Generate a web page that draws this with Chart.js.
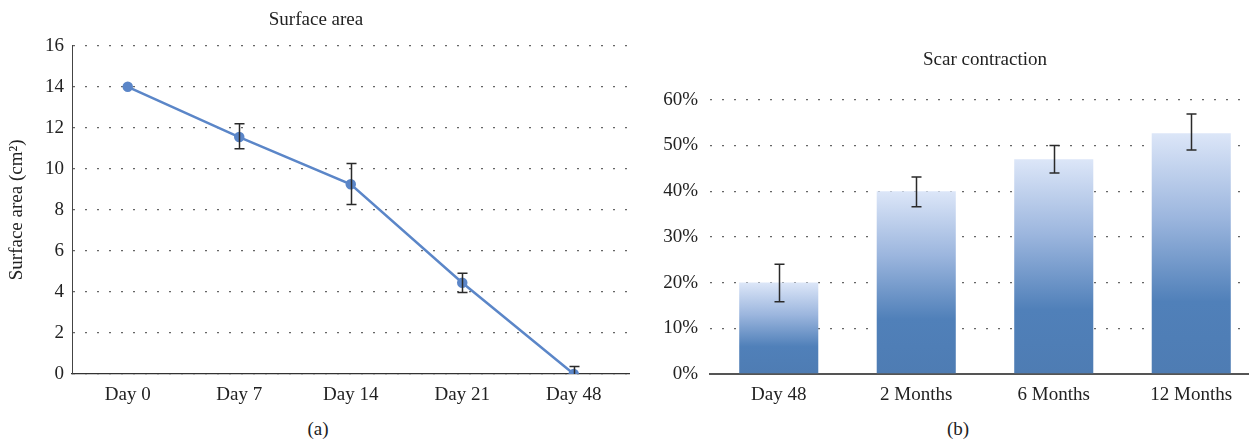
<!DOCTYPE html>
<html>
<head>
<meta charset="utf-8">
<script src="https://cdn.jsdelivr.net/npm/chart.js@4.4.1/dist/chart.umd.min.js"></script>
<style>
  body { margin: 0; background: #fff; overflow: hidden; width: 1249px; height: 440px; position: relative; }
  .panel { position: absolute; top: 0; width: 636px; height: 410px; }
  .caption { position: absolute; top: 418px; width: 636px; text-align: center;
    font: 19px 'Liberation Serif', 'Times New Roman', serif; color: #222; }
</style>
</head>
<body>
<div class="panel" style="left:0"><canvas id="surfaceChart" width="636" height="410"></canvas></div>
<div class="panel" style="left:640px"><canvas id="scarChart" width="636" height="410"></canvas></div>
<div class="caption" style="left:0">(a)</div>
<div class="caption" style="left:640px">(b)</div>

<script>
// surface area (cm2), mean with error range
const surfaceDays = ['Day 0', 'Day 7', 'Day 14', 'Day 21', 'Day 48'];
const surfaceMean = [14, 11.55, 9.25, 4.45, 0];
const surfaceLow = [14, 10.98, 8.26, 3.97, 0];
const surfaceHigh = [14, 12.2, 10.26, 4.91, 0.36];
const surfaceTicks = [0, 2, 4, 6, 8, 10, 12, 14, 16];

// scar contraction (%)
const scarTimes = ['Day 48', '2 Months', '6 Months', '12 Months'];
const scarMean = [20, 40, 47, 52.7];
const scarLow = [15.8, 36.6, 44, 49];
const scarHigh = [24, 43.1, 50, 56.9];
const scarTicks = [0, 10, 20, 30, 40, 50, 60];

const serif = "'Liberation Serif', 'Times New Roman', serif";
const textColor = '#222';

// draws the error bars from the low/high arrays
const errorBars = {
  id: 'errorBars',
  afterDatasetsDraw(chart, args, opts) {
    const { ctx } = chart;
    const y = chart.scales.y;
    const meta = chart.getDatasetMeta(0);
    ctx.save();
    ctx.strokeStyle = '#2a2a2a';
    ctx.lineWidth = 1.5;
    opts.low.forEach((lo, i) => {
      const hi = opts.high[i];
      if (lo === hi) return;
      const px = Math.round(meta.data[i].x) + 0.5;
      const yLo = y.getPixelForValue(lo);
      const yHi = y.getPixelForValue(hi);
      ctx.beginPath();
      ctx.moveTo(px, yLo); ctx.lineTo(px, yHi);
      ctx.moveTo(px - 5, yHi); ctx.lineTo(px + 5, yHi);
      // no lower cap when the bar sits on the axis
      if (lo > 0) {
        ctx.moveTo(px - 5, yLo); ctx.lineTo(px + 5, yLo);
      }
      ctx.stroke();
    });
    ctx.restore();
  }
};

const gridDots = { color: '#666', width: 1.3 };

new Chart('surfaceChart', {
  type: 'line',
  data: {
    labels: surfaceDays,
    datasets: [{
      data: surfaceMean,
      borderColor: '#5b86c8',
      backgroundColor: '#5b86c8',
      borderWidth: 2.5,
      pointRadius: 4,
      pointHoverRadius: 4,
      tension: 0
    }]
  },
  options: {
    responsive: false,
    animation: false,
    devicePixelRatio: 1,
    layout: { padding: { left: 0, right: 4, top: 0, bottom: 0 } },
    plugins: {
      legend: { display: false },
      tooltip: { enabled: false },
      title: {
        display: true,
        text: 'Surface area',
        color: textColor,
        font: { family: serif, size: 19, weight: 'normal' },
        padding: { top: 9, bottom: 14 }
      },
      errorBars: { low: surfaceLow, high: surfaceHigh }
    },
    scales: {
      x: {
        offset: true,
        grid: { display: false },
        border: { display: true, color: '#333', width: 1.2 },
        ticks: { color: textColor, font: { family: serif, size: 19 }, padding: 2, maxRotation: 0, autoSkip: false },
        afterFit: s => { s.height = 36; }
      },
      y: {
        min: 0, max: 16,
        afterBuildTicks: s => { s.ticks = surfaceTicks.map(v => ({ value: v })); },
        grid: { drawTicks: false, color: gridDots.color, lineWidth: gridDots.width },
        border: { display: true, color: '#444', width: 1, dash: [2, 10] },
        ticks: { color: textColor, font: { family: serif, size: 19 }, padding: 8, autoSkip: false },
        title: {
          display: true,
          text: 'Surface area (cm²)',
          color: textColor,
          font: { family: serif, size: 19 },
          padding: { top: 6, bottom: 0 }
        },
        afterFit: s => { s.width = 72; }
      }
    }
  },
  plugins: [errorBars]
});

new Chart('scarChart', {
  type: 'bar',
  data: {
    labels: scarTimes,
    datasets: [{
      data: scarMean,
      backgroundColor: ctx => {
        const chart = ctx.chart;
        if (!chart.chartArea || ctx.type !== 'data') return '#4f7db4';
        const y = chart.scales.y;
        const top = y.getPixelForValue(ctx.raw);
        const base = y.getPixelForValue(0);
        const g = chart.ctx.createLinearGradient(0, top, 0, base);
        g.addColorStop(0, '#dce6f8');
        g.addColorStop(0.35, '#9cb6de');
        g.addColorStop(0.7, '#5080b9');
        g.addColorStop(1, '#4e7cb3');
        return g;
      },
      borderWidth: 0,
      barPercentage: 0.575,
      categoryPercentage: 1
    }]
  },
  options: {
    responsive: false,
    animation: false,
    devicePixelRatio: 1,
    layout: { padding: { left: 0, right: 16, top: 0, bottom: 0 } },
    plugins: {
      legend: { display: false },
      tooltip: { enabled: false },
      title: {
        display: true,
        fullSize: false,
        text: 'Scar contraction',
        color: textColor,
        font: { family: serif, size: 19, weight: 'normal' },
        padding: { top: 49, bottom: 28 }
      },
      errorBars: { low: scarLow, high: scarHigh }
    },
    scales: {
      x: {
        grid: { display: false },
        border: { display: true, color: '#555', width: 2 },
        ticks: { color: textColor, font: { family: serif, size: 19 }, padding: 2, maxRotation: 0, autoSkip: false },
        afterFit: s => { s.height = 36; }
      },
      y: {
        min: 0, max: 60,
        afterBuildTicks: s => { s.ticks = scarTicks.map(v => ({ value: v })); },
        grid: { drawTicks: false, color: gridDots.color, lineWidth: gridDots.width },
        border: { display: false, dash: [2, 10] },
        ticks: {
          color: textColor,
          font: { family: serif, size: 19 },
          padding: 12,
          autoSkip: false,
          callback: v => v + '%'
        },
        afterFit: s => { s.width = 70; }
      }
    }
  },
  plugins: [errorBars]
});
</script>
</body>
</html>
